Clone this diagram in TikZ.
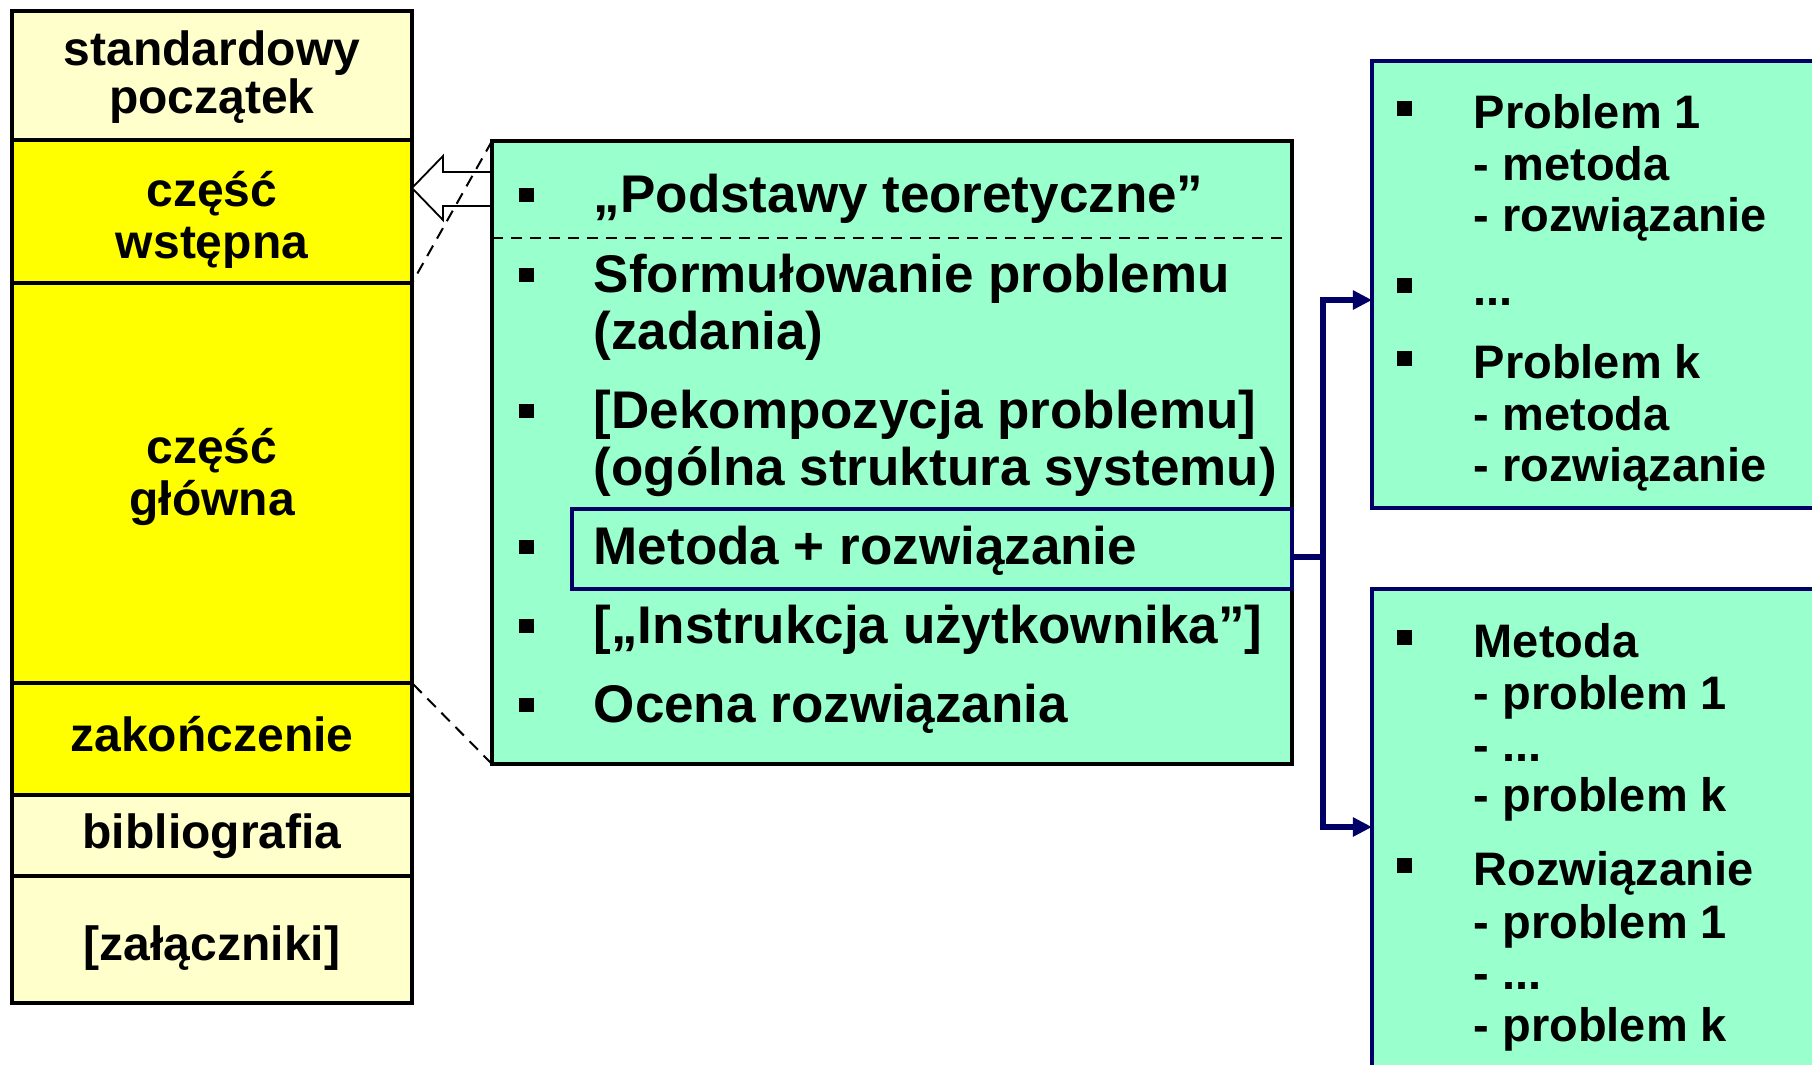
\documentclass[tikz,border=0pt]{standalone}
\usepackage{fontspec}
\setmainfont{Liberation Sans}
\usetikzlibrary{arrows.meta}
\definecolor{pale}{HTML}{FFFFCC}
\definecolor{yel}{HTML}{FFFF00}
\definecolor{mint}{HTML}{99FFCC}
\definecolor{navy}{HTML}{000066}
\newcommand{\midbul}{\llap{\rule[2.4pt]{3.8pt}{3.6pt}\hspace{15pt}}}
\newcommand{\rbul}{\llap{\rule[3pt]{3.8pt}{3.8pt}\hspace{15.5pt}}}
\tikzset{
  colbox/.style={draw=black, line width=1pt, inner sep=0pt, outer sep=0pt, minimum width=100pt, anchor=north west},
  coltext/.style={anchor=base, inner sep=0pt, font=\fontsize{12pt}{14pt}\selectfont\bfseries},
  midtext/.style={anchor=base west, inner sep=0pt, font=\fontsize{13.25pt}{15pt}\selectfont\bfseries},
  rtext/.style={anchor=base west, inner sep=0pt, font=\fontsize{11.75pt}{14pt}\selectfont\bfseries},
  greenbox/.style={fill=mint, line width=1pt, inner sep=0pt, outer sep=0pt, anchor=north west},
  navyarrow/.style={draw=navy, line width=1.35pt, -{Triangle[length=4.8pt,width=4.6pt]}},
  linkdash/.style={draw=black, line width=0.5pt, dash pattern=on 3pt off 2pt}
}
\begin{document}
\begin{tikzpicture}[x=0.25pt, y=-0.25pt]
\useasboundingbox (0,0) rectangle (1812,1064);
\fill[white] (0,0) rectangle (1812,1064);
\clip (0,0) rectangle (1812,1064);

% left column
\node[colbox, fill=pale, minimum height=32.25pt] (start) at (12,11) {};
\node[colbox, fill=yel, minimum height=35.75pt] (wst) at (12,140) {};
\node[colbox, fill=yel, minimum height=100pt] (glow) at (12,283) {};
\node[colbox, fill=yel, minimum height=28pt] (zak) at (12,683) {};
\node[colbox, fill=pale, minimum height=20.25pt] (bib) at (12,795) {};
\node[colbox, fill=pale, minimum height=31.75pt] (zal) at (12,876) {};

\node[coltext] (t1a) at (212,65) {standardowy};
\node[coltext] (t1b) at (212,113) {początek};
\node[coltext] (t2a) at (212,206) {część};
\node[coltext] (t2b) at (212,258) {wstępna};
\node[coltext] (t3a) at (212,463) {część};
\node[coltext] (t3b) at (212,515) {główna};
\node[coltext] (t4) at (212,751) {zakończenie};
\node[coltext] (t5) at (212,848) {bibliografia};
\node[coltext] (t6) at (212,960) {[załączniki]};

% hollow block arrow
\draw[line width=0.45pt, fill=white] (412,188) -- (443,156) -- (443,172) -- (492,172)
  -- (492,206) -- (443,206) -- (443,220) -- cycle;

% middle box
\node[greenbox, draw=black, minimum width=200pt, minimum height=155.75pt] (mid) at (492,141) {};
\draw[linkdash, dash pattern=on 2.75pt off 2pt] (492,238) -- (1292,238);
\node[draw=navy, line width=0.85pt, inner sep=0pt, outer sep=0pt, anchor=north west,
      minimum width=180pt, minimum height=20pt] (hl) at (572,509) {};

\draw[linkdash] (mid.north west) -- (wst.south east);
\draw[linkdash] (mid.south west) -- (zak.north east);

\node[midtext] (m1) at (593,212) {\midbul „Podstawy teoretyczne”};
\node[midtext] (m2) at (593,292) {\midbul Sformułowanie problemu};
\node[midtext] (m3) at (593,349) {(zadania)};
\node[midtext] (m4) at (593,428) {\midbul [Dekompozycja problemu]};
\node[midtext] (m5) at (593,485) {(ogólna struktura systemu)};
\node[midtext] (m6) at (593,564) {\midbul Metoda + rozwiązanie};
\node[midtext] (m7) at (593,643) {\midbul [„Instrukcja użytkownika”]};
\node[midtext] (m8) at (593,722) {\midbul Ocena rozwiązania};

% right boxes
\node[greenbox, draw=navy, minimum width=120pt, minimum height=111.75pt] (rtop) at (1372,61) {};
\node[greenbox, draw=navy, minimum width=120pt, minimum height=130pt] (rbot) at (1372,589) {};

\node[rtext] (r1) at (1473,128) {\rbul Problem 1};
\node[rtext] (r2) at (1473,180) {- metoda};
\node[rtext] (r3) at (1473,231) {- rozwiązanie};
\node[rtext] (r4) at (1473,305) {\rbul ...};
\node[rtext] (r5) at (1473,378) {\rbul Problem k};
\node[rtext] (r6) at (1473,430) {- metoda};
\node[rtext] (r7) at (1473,481) {- rozwiązanie};

\node[rtext] (s1) at (1473,657) {\rbul Metoda};
\node[rtext] (s2) at (1473,709) {- problem 1};
\node[rtext] (s3) at (1473,761) {- ...};
\node[rtext] (s4) at (1473,811) {- problem k};
\node[rtext] (s5) at (1473,885) {\rbul Rozwiązanie};
\node[rtext] (s6) at (1473,938) {- problem 1};
\node[rtext] (s7) at (1473,989) {- ...};
\node[rtext] (s8) at (1473,1041) {- problem k};

% navy connectors
\coordinate (tin) at (rtop.west |- 0,300);
\coordinate (bin) at (rbot.west |- 0,827);
\draw[navyarrow] ([yshift=-2pt]hl.east) -- ++(31,0) coordinate (junc) |- (tin);
\draw[navyarrow] (junc) |- (bin);
\end{tikzpicture}
\end{document}
